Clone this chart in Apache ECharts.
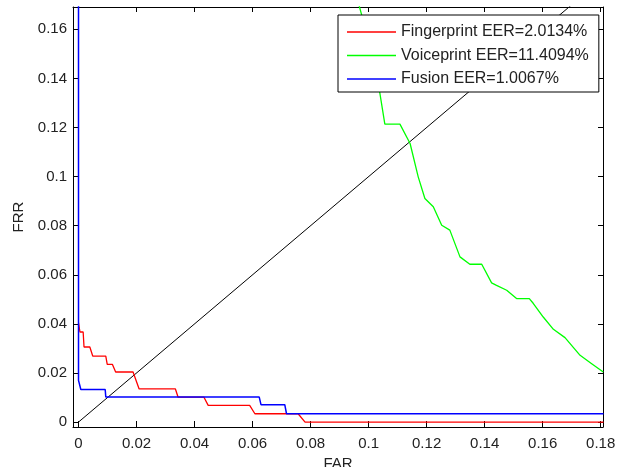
<!DOCTYPE html>
<html>
<head>
<meta charset="utf-8">
<script src="https://cdn.jsdelivr.net/npm/echarts@6/dist/echarts.min.js"></script>
<style>
  html, body { margin: 0; padding: 0; background: #fff; }
  #main { width: 617px; height: 467px; }
</style>
</head>
<body>
<div id="main"></div>
<script>
// tick values
var xTicks = [0, 0.02, 0.04, 0.06, 0.08, 0.1, 0.12, 0.14, 0.16, 0.18];
var yTicks = [0, 0.02, 0.04, 0.06, 0.08, 0.1, 0.12, 0.14, 0.16];

var legendNames = ['Fingerprint EER=2.0134%', 'Voiceprint EER=11.4094%', 'Fusion EER=1.0067%'];

// Fingerprint (red)
var fpFar = [0, 0.0005, 0.0016, 0.0019, 0.0039, 0.0049, 0.0094, 0.0099, 0.0117, 0.0128, 0.0188, 0.0209, 0.0334, 0.0343, 0.0432, 0.0447, 0.059, 0.0608, 0.0757, 0.0781, 0.181];
var fpFrr = [0.0404, 0.0367, 0.0367, 0.0306, 0.0306, 0.0269, 0.0269, 0.0235, 0.0235, 0.0204, 0.0204, 0.0135, 0.0135, 0.0102, 0.0102, 0.0068, 0.0068, 0.0034, 0.0034, 0, 0];

// Voiceprint (green)
var vpFar = [0.0962, 0.0976, 0.1037, 0.1056, 0.1108, 0.1143, 0.1171, 0.1194, 0.1223, 0.1252, 0.128, 0.1315, 0.1349, 0.139, 0.1424, 0.1441, 0.1476, 0.151, 0.1554, 0.1568, 0.1602, 0.1637, 0.1677, 0.1729, 0.1769, 0.1809];
var vpFrr = [0.172, 0.1659, 0.1353, 0.1214, 0.1214, 0.1135, 0.0999, 0.0911, 0.0877, 0.0802, 0.0782, 0.0673, 0.0643, 0.0643, 0.0567, 0.0557, 0.0537, 0.0503, 0.0503, 0.0483, 0.0428, 0.0378, 0.0344, 0.0272, 0.0238, 0.0204];

// Fusion (blue)
var fuFar = [0, 0, 0.0005, 0.0008, 0.0092, 0.0094, 0.0623, 0.0629, 0.0711, 0.0717, 0.181];
var fuFrr = [0.18, 0.017, 0.017, 0.0133, 0.0133, 0.0102, 0.0102, 0.0071, 0.0071, 0.0034, 0.0034];

// EER reference line y = x
var eqFar = [0, 0.181];
var eqFrr = [0, 0.181];

function pairs(xs, ys) {
    var out = [];
    for (var i = 0; i < xs.length; i++) out.push([xs[i], ys[i]]);
    return out;
}
function fmt(v) { return String(+v.toFixed(2)); }

var labelFont = { fontFamily: 'Liberation Sans, Arial, sans-serif', fontSize: 15, color: '#222' };

var chart = echarts.init(document.getElementById('main'));
var option = {
    animation: false,
    backgroundColor: '#fff',
    grid: { left: 73, top: 7, width: 530, height: 420, outerBoundsMode: 'none', containLabel: false },
    legend: {
        data: legendNames,
        orient: 'vertical',
        left: 338,
        top: 15,
        padding: [9, 10, 5, 9],
        icon: 'rect',
        itemWidth: 49,
        itemHeight: 1.4,
        itemGap: 7.5,
        backgroundColor: '#fff',
        borderColor: '#000',
        borderWidth: 1,
        borderRadius: 0,
        textStyle: { fontFamily: 'Liberation Sans, Arial, sans-serif', fontSize: 16, lineHeight: 16, color: '#222' }
    },
    xAxis: [{
        type: 'value',
        min: -0.0019, max: 0.1808,
        name: 'FAR', nameLocation: 'middle', nameGap: 26,
        nameTextStyle: labelFont,
        axisLine: { onZero: false, lineStyle: { color: '#000', width: 1 } },
        axisTick: { inside: true, length: 6, customValues: xTicks, lineStyle: { color: '#000' } },
        axisLabel: { customValues: xTicks, formatter: fmt, margin: 9, fontFamily: labelFont.fontFamily, fontSize: 15, color: '#222' },
        splitLine: { show: false }
    }, {
        type: 'value', position: 'top',
        min: -0.0019, max: 0.1808,
        axisLine: { onZero: false, lineStyle: { color: '#000', width: 1 } },
        axisTick: { inside: true, length: 5, customValues: xTicks, lineStyle: { color: '#000' } },
        axisLabel: { show: false },
        splitLine: { show: false }
    }],
    yAxis: [{
        type: 'value',
        min: -0.002, max: 0.1691,
        name: 'FRR', nameLocation: 'middle', nameGap: 47,
        nameTextStyle: labelFont,
        axisLine: { onZero: false, lineStyle: { color: '#000', width: 1 } },
        axisTick: { inside: true, length: 5, customValues: yTicks, lineStyle: { color: '#000' } },
        axisLabel: { customValues: yTicks, formatter: fmt, margin: 6, fontFamily: labelFont.fontFamily, fontSize: 15, color: '#222' },
        splitLine: { show: false }
    }, {
        type: 'value', position: 'right',
        min: -0.002, max: 0.1691,
        axisLine: { onZero: false, lineStyle: { color: '#000', width: 1 } },
        axisTick: { inside: true, length: 5, customValues: yTicks, lineStyle: { color: '#000' } },
        axisLabel: { show: false },
        splitLine: { show: false }
    }],
    series: [{
        name: 'EER line',
        type: 'line',
        data: pairs(eqFar, eqFrr),
        symbol: 'none',
        lineStyle: { color: '#000', width: 1 },
        itemStyle: { color: '#000' }
    }, {
        name: legendNames[0],
        type: 'line',
        data: pairs(fpFar, fpFrr),
        symbol: 'none',
        lineStyle: { color: '#ff0000', width: 1.3 },
        itemStyle: { color: '#ff0000' }
    }, {
        name: legendNames[1],
        type: 'line',
        data: pairs(vpFar, vpFrr),
        symbol: 'none',
        lineStyle: { color: '#00ff00', width: 1.3 },
        itemStyle: { color: '#00ff00' }
    }, {
        name: legendNames[2],
        type: 'line',
        data: pairs(fuFar, fuFrr),
        symbol: 'none',
        lineStyle: { color: '#0000ff', width: 1.5 },
        itemStyle: { color: '#0000ff' }
    }]
};
chart.setOption(option);
</script>
</body>
</html>
